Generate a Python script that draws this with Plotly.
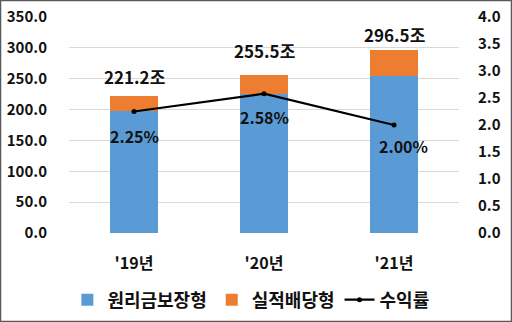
import plotly.graph_objects as go

# Pension reserve by product type (trillion won) and yield (%)
years = ["'19년", "'20년", "'21년"]
totals = [221.2, 255.5, 296.5]
guaranteed = [197.0, 226.0, 255.0]
yields = [2.25, 2.58, 2.00]
left_ticks = [0, 50, 100, 150, 200, 250, 300, 350]
right_ticks = [0, 0.5, 1.0, 1.5, 2.0, 2.5, 3.0, 3.5, 4.0]

performance = [round(t - g, 1) for t, g in zip(totals, guaranteed)]

FONT = "Noto Sans CJK KR"
BLUE = "#5B9BD5"
ORANGE = "#ED7D31"

fig = go.Figure()
fig.add_trace(go.Bar(x=years, y=guaranteed, name="원리금보장형",
                     marker=dict(color=BLUE, line=dict(width=0)), width=0.37))
fig.add_trace(go.Bar(x=years, y=performance, name="실적배당형",
                     marker=dict(color=ORANGE, line=dict(width=0)), width=0.37))
fig.add_trace(go.Scatter(x=years, y=yields, name="수익률", yaxis="y2",
                         mode="lines+markers",
                         line=dict(color="black", width=2.2),
                         marker=dict(color="black", size=5)))

annotations = []
# total labels above each stacked bar
total_shift = [20, 25, 16]
for x, t, s in zip(years, totals, total_shift):
    annotations.append(dict(x=x, y=t, xref="x", yref="y", text=f"{t:.1f}조",
                            showarrow=False, yshift=s, yanchor="middle",
                            font=dict(family=FONT, size=17, color="#111",
                                      weight="bold")))
# yield labels under each point
yield_shift = [(0, -24), (0, -23), (9, -21)]
for x, v, (dx, dy) in zip(years, yields, yield_shift):
    annotations.append(dict(x=x, y=v, xref="x", yref="y2", text=f"{v:.2f}%",
                            showarrow=False, xshift=dx, yshift=dy,
                            yanchor="middle",
                            font=dict(family=FONT, size=16, color="#111",
                                      weight="bold")))

tick_font = dict(family=FONT, size=15, color="#111", weight="bold")

fig.update_layout(
    width=512, height=322,
    margin=dict(l=69, r=53, t=17, b=89, autoexpand=False),
    paper_bgcolor="white", plot_bgcolor="white",
    barmode="stack",
    bargap=0.63,
    showlegend=True,
    legend=dict(orientation="h", xref="container", yref="container",
                x=0.49, xanchor="center", y=(322 - 300) / 322,
                yanchor="middle", font=dict(family=FONT, size=18, color="#111",
                                            weight="bold"),
                itemwidth=30, tracegroupgap=0, traceorder="normal"),
    xaxis=dict(showgrid=False, showline=False, zeroline=False,
               tickfont=dict(family=FONT, size=16, color="#111", weight="bold"),
               ticks="", ticklabelstandoff=19),
    yaxis=dict(range=[0, 350], tickvals=left_ticks, tickformat=".1f",
               showgrid=True, gridcolor="#D9D9D9", gridwidth=1,
               zeroline=False, showline=False, ticks="",
               ticklabelstandoff=21, tickfont=tick_font),
    yaxis2=dict(range=[0, 4], tickvals=right_ticks, tickformat=".1f",
                overlaying="y", side="right", showgrid=False, zeroline=False,
                showline=False, ticks="", ticklabelstandoff=18,
                tickfont=tick_font),
    annotations=annotations,
    shapes=[dict(type="rect", xref="paper", yref="paper",
                 x0=-68.5 / 390, x1=(512 - 69 - 0.5) / 390,
                 y0=-88.5 / 215.7, y1=(215.7 + 16.5) / 215.7,
                 line=dict(color="#595959", width=1.5), layer="above")],
)

fig.write_html("out.html")
